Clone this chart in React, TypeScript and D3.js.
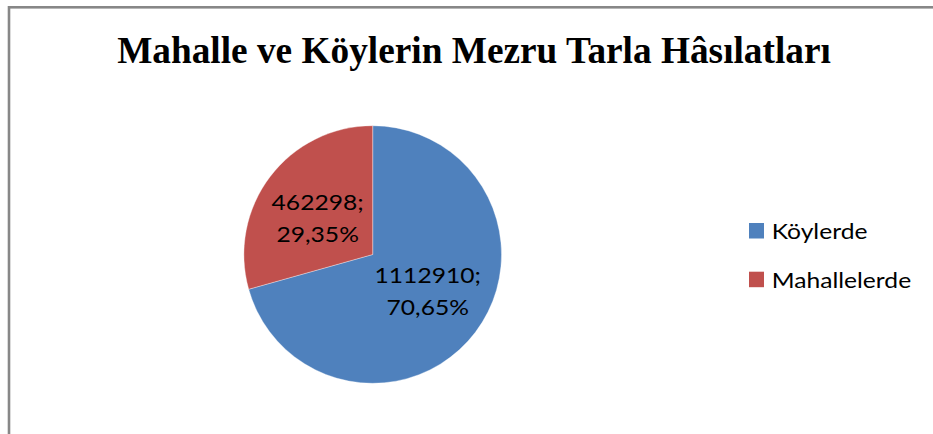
import React from "react";
import * as d3 from "d3";

const categories = ["Köylerde", "Mahallelerde"];
const values = [1112910, 462298];
const percentLabels = ["70,65%", "29,35%"];
const colors = ["#4F81BD", "#C0504D"];
const title = "Mahalle ve Köylerin Mezru Tarla Hâsılatları";

export default function App() {
  const W = 933, H = 434;
  const cx = 372.7, cy = 254.5, r = 128.8;
  const pie = d3.pie<number>().sort(null).startAngle(0).endAngle(2 * Math.PI)(values);
  const arc = d3.arc<d3.PieArcDatum<number>>().innerRadius(0).outerRadius(r);
  const labelR = r * 0.513;
  const angleShift = (-3.6 * Math.PI) / 180;
  const font = "Lato, 'Open Sans', sans-serif";
  const sx = 1.12;
  return (
    <svg width={W} height={H} style={{ position: "absolute", left: 0, top: 0 }}>
      <rect x={0} y={0} width={W} height={H} fill="#fff" />
      <rect x={9} y={7.3} width={W + 20} height={H + 20} fill="none" stroke="#878787" strokeWidth={2.6} />
      <text x={474} y={62.5} textAnchor="middle" fontFamily="'Liberation Serif', 'Times New Roman', serif"
        fontWeight="bold" fontSize={37.3} fill="#000">{title}</text>
      <g transform={`translate(${cx},${cy})`}>
        {pie.map((d, i) => (
          <path key={i} d={arc(d) || ""} fill={colors[i]} stroke="#fff" strokeOpacity={0.35} strokeWidth={1} />
        ))}
      </g>
      {pie.map((d, i) => {
        const a = (d.startAngle + d.endAngle) / 2 + angleShift;
        const px = cx + Math.sin(a) * labelR;
        const py = cy - Math.cos(a) * labelR;
        return (
          <g key={i} transform={`translate(${px},${py}) scale(${sx},1)`}>
            <text x={0} y={-8.3} textAnchor="middle" fontFamily={font} fontSize={22} fill="#000">{`${values[i]};`}</text>
            <text x={0} y={24.3} textAnchor="middle" fontFamily={font} fontSize={22} fill="#000">{percentLabels[i]}</text>
          </g>
        );
      })}
      {categories.map((c, i) => (
        <g key={c} transform={`translate(749,${223 + i * 48.7})`}>
          <rect x={0} y={0} width={15} height={15.5} fill={colors[i]} />
          <g transform={`translate(22.7,16) scale(${sx},1)`}>
            <text x={0} y={0} fontFamily={font} fontSize={22} fill="#000">{c}</text>
          </g>
        </g>
      ))}
    </svg>
  );
}
